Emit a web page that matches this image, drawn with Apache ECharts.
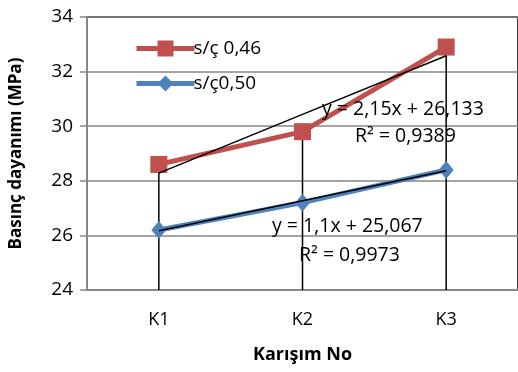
<!DOCTYPE html>
<html><head><meta charset="utf-8">
<script src="https://cdn.jsdelivr.net/npm/echarts@6/dist/echarts.min.js"></script>
<style>html,body{margin:0;padding:0;background:#fff}#c{width:518px;height:372px}</style>
</head><body><div id="c"></div>
<script>
var categories = ['K1', 'K2', 'K3'];
var seriesNames = ['s/ç 0,46', 's/ç0,50'];
var values046 = [28.6, 29.8, 32.9];
var values050 = [26.2, 27.2, 28.4];
var trend046 = { slope: 2.15, intercept: 26.133, r2: '0,9389', eq: 'y = 2,15x + 26,133' };
var trend050 = { slope: 1.1, intercept: 25.067, r2: '0,9973', eq: 'y = 1,1x + 25,067' };
var yMin = 24, yMax = 34, yInterval = 2;

var FONT = "'Open Sans', sans-serif";
function trendData(t) { return categories.map(function (c, i) { return +(t.slope * (i + 1) + t.intercept).toFixed(3); }); }
var dropTop = categories.map(function (c, i) { return Math.max(values046[i], values050[i]); });

var chart = echarts.init(document.getElementById('c'), null, { renderer: 'canvas' });
chart.setOption({
  animation: false,
  grid: { left: 87, top: 17, bottom: 82, width: 435, show: true, borderColor: '#000', borderWidth: 1.5 },
  legend: {
    orient: 'vertical', left: 129, top: 34, itemGap: 16, itemWidth: 58, itemHeight: 20,
    data: seriesNames,
    lineStyle: { width: 5 },
    textStyle: { fontFamily: FONT, fontSize: 19, color: '#000', padding: [0, 0, 0, -6] }
  },
  xAxis: {
    type: 'category', data: categories, boundaryGap: true,
    name: 'Karışım No', nameLocation: 'middle', nameGap: 56,
    nameTextStyle: { fontFamily: FONT, fontSize: 18, fontWeight: 'bold', color: '#000' },
    axisLine: { lineStyle: { color: '#868686', width: 2 } },
    axisTick: { show: false },
    axisLabel: { fontFamily: FONT, fontSize: 18, color: '#000', margin: 21 }
  },
  yAxis: {
    type: 'value', min: yMin, max: yMax, interval: yInterval,
    name: 'Basınç dayanımı (MPa)', nameLocation: 'middle', nameGap: 62, nameRotate: 90,
    nameTextStyle: { fontFamily: FONT, fontSize: 17, fontWeight: 'bold', color: '#000' },
    axisLine: { show: true, lineStyle: { color: '#868686', width: 2 } },
    axisTick: { show: true, length: 7, lineStyle: { color: '#868686', width: 1.5 } },
    axisLabel: { fontFamily: FONT, fontSize: 19, color: '#000', margin: 14 },
    splitLine: { lineStyle: { color: '#868686', width: 1.5 } }
  },
  series: [
    {
      type: 'custom', name: 'drop', silent: true, z: 1,
      data: dropTop,
      renderItem: function (params, api) {
        var top = api.coord([api.value(0), api.value(1)]);
        var bot = api.coord([api.value(0), yMin]);
        return { type: 'line', shape: { x1: top[0], y1: top[1], x2: bot[0], y2: bot[1] }, style: { stroke: '#000', lineWidth: 1.5 } };
      },
      encode: { x: 0, y: 1 }
    },
    {
      name: seriesNames[0], type: 'line', data: values046, z: 3,
      symbol: 'rect', symbolSize: 17,
      itemStyle: { color: '#C0504D' }, lineStyle: { color: '#C0504D', width: 5 }
    },
    {
      name: seriesNames[1], type: 'line', data: values050, z: 3,
      symbol: 'diamond', symbolSize: [15, 18],
      itemStyle: { color: '#4F81BD' }, lineStyle: { color: '#4F81BD', width: 5 }
    },
    {
      name: 'trend046', type: 'line', data: trendData(trend046), z: 4, symbol: 'none', silent: true,
      lineStyle: { color: '#000', width: 1.5 }
    },
    {
      name: 'trend050', type: 'line', data: trendData(trend050), z: 4, symbol: 'none', silent: true,
      lineStyle: { color: '#000', width: 1.5 }
    }
  ],
  graphic: [
    { type: 'text', left: 322, top: 99, z: 10, style: { text: trend046.eq, font: '19.5px ' + FONT, fill: '#000' } },
    { type: 'text', left: 355, top: 126, z: 10, style: { text: 'R² = ' + trend046.r2, font: '19.5px ' + FONT, fill: '#000' } },
    { type: 'text', left: 272, top: 216, z: 10, style: { text: trend050.eq, font: '19.5px ' + FONT, fill: '#000' } },
    { type: 'text', left: 299, top: 245, z: 10, style: { text: 'R² = ' + trend050.r2, font: '19.5px ' + FONT, fill: '#000' } }
  ]
});
</script></body></html>
